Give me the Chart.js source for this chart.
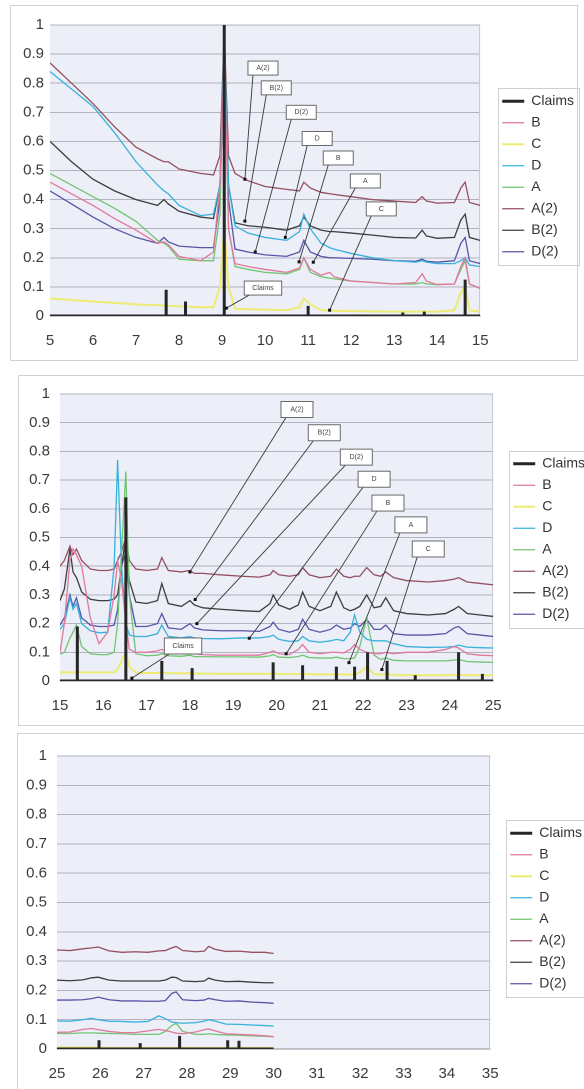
<!DOCTYPE html>
<html><head><meta charset="utf-8">
<script src="https://cdn.jsdelivr.net/npm/chart.js@4.4.0/dist/chart.umd.min.js"></script>
<style>
html,body{margin:0;padding:0;background:#fff;width:584px;height:1089px;overflow:hidden;position:relative}
canvas{position:absolute}
.frame{position:absolute;border:1px solid #d2d2d2;pointer-events:none}
</style></head><body>
<canvas id="c1" width="574" height="355" style="left:10px;top:5px"></canvas>
<canvas id="c2" width="577" height="350" style="left:18px;top:375px"></canvas>
<canvas id="c3" width="575" height="356" style="left:17px;top:733px"></canvas>
<div class="frame" style="left:10px;top:5px;width:566px;height:354px"></div>
<div class="frame" style="left:18px;top:375px;width:600px;height:349px"></div>
<div class="frame" style="left:17px;top:733px;width:600px;height:400px"></div>
<script>
// ---------- series names & colours ----------
const seriesNames = ['Claims','B','C','D','A','A(2)','B(2)','D(2)'];
const seriesColors = ['#262626','#e2789c','#ecec72','#38b2dc','#72c672','#94505f','#3e3e3e','#5656a8'];
const seriesWidths = [3,1.3,2,1.3,1.3,1.3,1.3,1.3];

// ---------- panel 1 (5 - 15) ----------
const p1X  = [5,5.5,6,6.5,7, 7.5,7.65,7.75,8,8.5, 8.8,8.95,9.05,9.15,9.3, 9.6,10,10.5,10.8,10.9, 11.05,11.3,11.5,11.6,12, 12.5,13,13.5,13.65,13.75, 14,14.4,14.55,14.65,14.75, 15];
const p1B  = [0.46,0.42,0.38,0.335,0.295, 0.25,0.255,0.245,0.205,0.19, 0.22,0.45,0.90,0.30,0.18, 0.17,0.16,0.15,0.165,0.20, 0.16,0.14,0.15,0.135,0.12, 0.115,0.11,0.115,0.145,0.12, 0.108,0.11,0.17,0.20,0.11, 0.095];
const p1C  = [0.06,0.055,0.05,0.045,0.04, 0.037,0.036,0.035,0.033,0.03, 0.03,0.10,0.30,0.10,0.025, 0.023,0.022,0.02,0.03,0.06, 0.04,0.02,0.018,0.018,0.017, 0.016,0.015,0.015,0.016,0.015, 0.015,0.02,0.08,0.10,0.02, 0.015];
const p1D  = [0.84,0.78,0.72,0.63,0.53, 0.45,0.43,0.42,0.38,0.345, 0.35,0.45,0.95,0.45,0.31, 0.285,0.27,0.26,0.29,0.35, 0.30,0.25,0.235,0.23,0.215, 0.20,0.19,0.185,0.19,0.185, 0.18,0.18,0.19,0.20,0.175, 0.17];
const p1A  = [0.49,0.45,0.41,0.37,0.325, 0.26,0.25,0.24,0.195,0.19, 0.19,0.35,1.0,0.30,0.17, 0.16,0.15,0.145,0.16,0.20, 0.15,0.135,0.13,0.128,0.12, 0.115,0.11,0.11,0.115,0.11, 0.108,0.11,0.16,0.19,0.11, 0.095];
const p1A2 = [0.87,0.80,0.73,0.65,0.58, 0.54,0.53,0.53,0.505,0.49, 0.485,0.55,0.98,0.55,0.49, 0.465,0.445,0.435,0.43,0.46, 0.44,0.425,0.42,0.418,0.41, 0.40,0.395,0.39,0.41,0.395, 0.388,0.39,0.44,0.46,0.39, 0.38];
const p1B2 = [0.60,0.53,0.47,0.43,0.40, 0.38,0.40,0.385,0.36,0.34, 0.335,0.45,0.97,0.45,0.32, 0.31,0.305,0.295,0.31,0.34, 0.31,0.295,0.29,0.29,0.285, 0.278,0.27,0.268,0.295,0.275, 0.267,0.27,0.33,0.35,0.27, 0.26];
const p1D2 = [0.43,0.385,0.34,0.30,0.27, 0.25,0.27,0.255,0.24,0.235, 0.235,0.40,0.90,0.40,0.23, 0.22,0.21,0.205,0.22,0.26, 0.22,0.205,0.20,0.20,0.198, 0.195,0.19,0.188,0.195,0.188, 0.185,0.19,0.25,0.27,0.19, 0.18];
const p1ClaimX = [7.7,8.15,9.05,11.0,13.2,13.7,14.65];
const p1ClaimY = [0.09,0.05,1.0,0.035,0.012,0.015,0.125];
const p1Ticks = [5,6,7,8,9,10,11,12,13,14,15];

// ---------- panel 2 (15 - 25) ----------
const p2X  = [15,15.1,15.23,15.3,15.38, 15.5,15.7,15.9,16.1,16.25, 16.33,16.42,16.52,16.6,16.75, 17,17.25,17.35,17.5,17.8, 18,18.1,18.3,18.7,19.2, 19.6,19.85,19.92,20.05,20.3, 20.5,20.6,20.75,21,21.25, 21.38,21.55,21.7,21.8,21.92, 22.08,22.25,22.4,22.52,22.7, 23,23.5,23.9,24.1,24.2, 24.4,24.7,25];
const p2B  = [0.10,0.20,0.42,0.46,0.44, 0.40,0.22,0.13,0.17,0.30, 0.42,0.35,0.20,0.11,0.10, 0.10,0.105,0.11,0.10,0.097, 0.10,0.095,0.092,0.09,0.09, 0.09,0.10,0.105,0.095,0.092, 0.11,0.127,0.10,0.095,0.10, 0.10,0.098,0.11,0.127,0.11, 0.10,0.095,0.095,0.10,0.095, 0.10,0.10,0.11,0.12,0.115, 0.095,0.09,0.088];
const p2C  = [0.03,0.03,0.03,0.03,0.03, 0.03,0.03,0.03,0.03,0.03, 0.04,0.07,0.10,0.05,0.03, 0.028,0.028,0.03,0.027,0.027, 0.027,0.026,0.026,0.025,0.025, 0.025,0.025,0.027,0.024,0.024, 0.024,0.026,0.023,0.023,0.023, 0.024,0.022,0.022,0.024,0.03, 0.05,0.025,0.022,0.024,0.021, 0.02,0.02,0.02,0.021,0.022, 0.02,0.02,0.02];
const p2D  = [0.18,0.20,0.29,0.25,0.27, 0.20,0.175,0.168,0.17,0.40, 0.77,0.40,0.20,0.16,0.155, 0.155,0.165,0.195,0.155,0.15, 0.155,0.15,0.148,0.147,0.15, 0.15,0.155,0.16,0.145,0.138, 0.14,0.155,0.14,0.135,0.14, 0.145,0.14,0.17,0.23,0.17, 0.145,0.14,0.14,0.14,0.13, 0.12,0.117,0.118,0.12,0.125, 0.118,0.116,0.115];
const p2A  = [0.093,0.10,0.15,0.17,0.195, 0.12,0.095,0.092,0.092,0.10, 0.20,0.45,0.73,0.30,0.095, 0.088,0.09,0.095,0.088,0.086, 0.09,0.085,0.085,0.084,0.084, 0.083,0.088,0.092,0.083,0.082, 0.085,0.09,0.082,0.08,0.08, 0.083,0.078,0.078,0.08,0.12, 0.22,0.09,0.075,0.08,0.072, 0.07,0.07,0.07,0.073,0.075, 0.068,0.066,0.065];
const p2A2 = [0.40,0.42,0.47,0.44,0.46, 0.42,0.39,0.385,0.385,0.39, 0.42,0.45,0.50,0.42,0.39, 0.385,0.39,0.43,0.385,0.38, 0.385,0.375,0.375,0.37,0.365, 0.362,0.37,0.385,0.37,0.365, 0.37,0.395,0.37,0.36,0.365, 0.39,0.365,0.36,0.365,0.365, 0.395,0.37,0.365,0.38,0.36, 0.35,0.345,0.35,0.355,0.36, 0.345,0.34,0.335];
const p2B2 = [0.28,0.32,0.46,0.38,0.36, 0.31,0.285,0.28,0.28,0.285, 0.30,0.40,0.50,0.35,0.275, 0.27,0.28,0.34,0.27,0.26, 0.28,0.265,0.255,0.25,0.245, 0.242,0.27,0.30,0.265,0.25, 0.265,0.31,0.26,0.245,0.26, 0.31,0.255,0.245,0.25,0.26, 0.30,0.255,0.26,0.29,0.245, 0.235,0.23,0.235,0.25,0.26, 0.235,0.23,0.225];
const p2D2 = [0.195,0.22,0.30,0.26,0.29, 0.22,0.195,0.19,0.19,0.195, 0.25,0.40,0.45,0.30,0.19, 0.19,0.20,0.235,0.185,0.18, 0.20,0.185,0.178,0.175,0.175, 0.173,0.19,0.205,0.18,0.17, 0.18,0.215,0.18,0.17,0.18, 0.195,0.18,0.185,0.20,0.19, 0.215,0.18,0.18,0.195,0.165, 0.16,0.16,0.165,0.185,0.19, 0.165,0.16,0.155];
const p2ClaimX = [15.4,16.52,17.35,18.05,19.92,20.6,21.38,21.8,22.1,22.55,23.2,24.2,24.75];
const p2ClaimY = [0.19,0.64,0.07,0.045,0.065,0.055,0.05,0.05,0.10,0.07,0.02,0.10,0.025];
const p2Ticks = [15,16,17,18,19,20,21,22,23,24,25];

// ---------- panel 3 (25 - 35) ----------
const p3X  = [25,25.3,25.6,25.8,25.95, 26.2,26.5,26.8,27.1,27.35, 27.5,27.65,27.75,27.9,28.2, 28.4,28.5,28.65,28.9,29.2, 29.5,29.8,30];
const p3B  = [0.057,0.058,0.067,0.07,0.066, 0.06,0.056,0.056,0.062,0.067, 0.063,0.058,0.054,0.052,0.058, 0.066,0.068,0.062,0.052,0.05, 0.048,0.045,0.042];
const p3C  = [0.005,0.005,0.005,0.005,0.005, 0.004,0.004,0.004,0.004,0.004, 0.004,0.004,0.004,0.004,0.004, 0.004,0.004,0.004,0.004,0.004, 0.004,0.004,0.004];
const p3D  = [0.096,0.095,0.10,0.105,0.10, 0.095,0.094,0.092,0.094,0.113, 0.104,0.092,0.09,0.088,0.09, 0.095,0.10,0.095,0.085,0.084, 0.082,0.08,0.078];
const p3A  = [0.053,0.053,0.055,0.055,0.054, 0.053,0.052,0.05,0.05,0.05, 0.06,0.08,0.088,0.06,0.05, 0.05,0.052,0.05,0.048,0.047, 0.045,0.043,0.042];
const p3A2 = [0.338,0.336,0.342,0.345,0.348, 0.335,0.33,0.332,0.33,0.335, 0.336,0.345,0.35,0.336,0.332, 0.334,0.35,0.34,0.333,0.334, 0.33,0.33,0.326];
const p3B2 = [0.235,0.233,0.236,0.243,0.245, 0.235,0.232,0.232,0.232,0.232, 0.235,0.245,0.244,0.232,0.23, 0.232,0.242,0.235,0.23,0.231, 0.228,0.226,0.226];
const p3D2 = [0.167,0.167,0.168,0.172,0.177, 0.168,0.164,0.164,0.163,0.163, 0.165,0.19,0.195,0.168,0.165, 0.167,0.173,0.168,0.163,0.164, 0.16,0.158,0.156];
const p3ClaimX = [25.97,26.92,27.83,28.94,29.2];
const p3ClaimY = [0.03,0.02,0.045,0.03,0.028];
const p3Ticks = [25,26,27,28,29,30,31,32,33,34,35];

const yTicks = [0,0.1,0.2,0.3,0.4,0.5,0.6,0.7,0.8,0.9,1];

// ---------- callouts (label, box centre, target point; data units) ----------
const p1Notes = [
  {t:'A(2)', bx:9.95, by:0.852, tx:9.53, ty:0.47},
  {t:'B(2)', bx:10.26, by:0.784, tx:9.53, ty:0.326},
  {t:'D(2)', bx:10.84, by:0.70, tx:9.77, ty:0.22},
  {t:'D', bx:11.21, by:0.61, tx:10.47, ty:0.27},
  {t:'B', bx:11.7, by:0.543, tx:10.79, ty:0.186},
  {t:'A', bx:12.33, by:0.464, tx:11.12, ty:0.185},
  {t:'C', bx:12.7, by:0.368, tx:11.5, ty:0.02},
  {t:'Claims', bx:9.95, by:0.096, tx:9.1, ty:0.027}
];
const p2Notes = [
  {t:'A(2)', bx:20.47, by:0.946, tx:18.0, ty:0.38},
  {t:'B(2)', bx:21.1, by:0.865, tx:18.12, ty:0.284},
  {t:'D(2)', bx:21.84, by:0.78, tx:18.16, ty:0.2},
  {t:'D', bx:22.25, by:0.703, tx:19.37, ty:0.149},
  {t:'B', bx:22.57, by:0.62, tx:20.22, ty:0.095},
  {t:'A', bx:23.1, by:0.544, tx:21.67, ty:0.064},
  {t:'C', bx:23.5, by:0.46, tx:22.43, ty:0.04},
  {t:'Claims', bx:17.84, by:0.122, tx:16.66, ty:0.01}
];

// ---------- helpers ----------
function pts(xs, ys){ return xs.map((x,i)=>({x:x, y:ys[i]})); }
function spikes(xs, ys, x0, x1){
  const out = [{x:x0, y:0}];
  xs.forEach((x,i)=>{ out.push({x:x,y:0},{x:x,y:ys[i]},{x:x,y:0}); });
  out.push({x:x1, y:0});
  return out;
}
const FONT = "'Liberation Sans', Arial, sans-serif";

const bgPlugin = {
  id:'bg',
  beforeDraw(chart){
    const {ctx, chartArea:a} = chart;
    ctx.save(); ctx.fillStyle = '#eceef8';
    ctx.fillRect(a.left, a.top, a.right-a.left, a.bottom-a.top);
    ctx.restore();
  },
  beforeDatasetsDraw(chart){
    const {ctx, chartArea:a} = chart;
    ctx.save(); ctx.strokeStyle = '#c9c9d4'; ctx.lineWidth = 1;
    ctx.beginPath(); ctx.moveTo(Math.round(a.right)-0.5, a.top); ctx.lineTo(Math.round(a.right)-0.5, a.bottom); ctx.stroke();
    ctx.restore();
  }
};
const notesPlugin = {
  id:'notes',
  afterDatasetsDraw(chart, args, opts){
    const notes = opts.items || [];
    const {ctx} = chart; const xs = chart.scales.x, ys = chart.scales.y;
    ctx.save();
    ctx.font = '7px ' + FONT;
    notes.forEach(n=>{
      const bx = xs.getPixelForValue(n.bx), by = ys.getPixelForValue(n.by);
      const tx = xs.getPixelForValue(n.tx), ty = ys.getPixelForValue(n.ty);
      const w = Math.max(opts.w, ctx.measureText(n.t).width + 16), h = opts.h;
      const l = bx - w/2, t = by - h/2;
      ctx.strokeStyle = '#3a3a3a'; ctx.lineWidth = 0.9;
      ctx.beginPath(); ctx.moveTo(l + 5, t + h); ctx.lineTo(tx, ty); ctx.stroke();
      ctx.fillStyle = '#111'; ctx.fillRect(tx-1.5, ty-1.5, 3, 3);
      ctx.fillStyle = '#fff'; ctx.fillRect(l, t, w, h);
      ctx.strokeStyle = '#6a6a6a'; ctx.lineWidth = 1; ctx.strokeRect(l, t, w, h);
      ctx.fillStyle = '#444'; ctx.textAlign = 'center'; ctx.textBaseline = 'middle';
      ctx.fillText(n.t, bx, by);
    });
    ctx.restore();
  }
};
const legendShiftPlugin = {
  id:'legendShift',
  afterLayout(chart, args, opts){
    const lg = chart.legend; if (!lg) return;
    lg.top += opts.dy || 0; lg.bottom += opts.dy || 0;
  }
};
const legendBoxPlugin = {
  id:'legendBox',
  afterDraw(chart){
    const lg = chart.legend; if (!lg || !lg.legendHitBoxes || !lg.legendHitBoxes.length) return;
    const hb = lg.legendHitBoxes;
    let l = Infinity, r = -Infinity, t = Infinity, b = -Infinity;
    hb.forEach(h=>{ l=Math.min(l,h.left); r=Math.max(r,h.left+h.width); t=Math.min(t,h.top); b=Math.max(b,h.top+h.height); });
    const ctx = chart.ctx; ctx.save(); ctx.strokeStyle = '#cfcfcf'; ctx.lineWidth = 1;
    ctx.strokeRect(Math.round(l-4)+0.5, Math.round(t-6)+0.5, Math.round(r-l+9), Math.round(b-t+12));
    ctx.restore();
  }
};

function makeChart(id, p){
  const ys = [null, p.B, p.C, p.D, p.A, p.A2, p.B2, p.D2];
  const datasets = seriesNames.map((name,i)=>({
    label: name,
    data: i===0 ? spikes(p.claimX, p.claimY, p.x0, p.x1) : pts(p.X, ys[i]),
    borderColor: seriesColors[i], backgroundColor: seriesColors[i],
    borderWidth: seriesWidths[i], pointRadius: 0, tension: 0, fill: false
  }));
  return new Chart(document.getElementById(id), {
    type:'line',
    data:{datasets},
    plugins:[bgPlugin, notesPlugin, legendShiftPlugin, legendBoxPlugin],
    options:{
      responsive:false, animation:false, devicePixelRatio:2,
      layout:{padding:{top:p.padTop, left:0, right:p.padRight, bottom:0}},
      scales:{
        x:{type:'linear', min:p.ticks[0], max:p.ticks[p.ticks.length-1],
           afterBuildTicks(s){ s.ticks = p.ticks.map(v=>({value:v})); },
           ticks:{font:{family:FONT, size:p.fs}, color:'#3a3a3a', padding:p.xPad, maxRotation:0, autoSkip:false},
           grid:{display:false, drawTicks:false}, border:{display:true, color:'#8c8c94', width:1},
           afterFit(s){ s.height = p.xH; }},
        y:{min:0, max:1,
           afterBuildTicks(s){ s.ticks = yTicks.map(v=>({value:v})); },
           ticks:{font:{family:FONT, size:p.fs}, color:'#3a3a3a', padding:p.yPad, callback:v=>String(Number(v.toFixed(1)))},
           grid:{color:'#b2b2c0', drawTicks:false, lineWidth:1}, border:{display:false},
           afterFit(s){ s.width = p.yW; }},
        gap:{position:'right', display:true, min:0, max:1,
           ticks:{display:false}, grid:{display:false, drawTicks:false}, border:{display:false},
           afterFit(s){ s.width = p.gap; }}
      },
      plugins:{
        tooltip:{enabled:false},
        notes:{items:p.notes || [], w:p.nw, h:p.nh},
        legendShift:{dy:p.legDy},
        legend:{position:'right', align:'center',
          labels:{usePointStyle:true, pointStyle:'line', pointStyleWidth:22, padding:7.5,
                  font:{family:FONT, size:14}, color:'#333'}}
      }
    }
  });
}

makeChart('c1', {X:p1X, B:p1B, C:p1C, D:p1D, A:p1A, A2:p1A2, B2:p1B2, D2:p1D2,
  claimX:p1ClaimX, claimY:p1ClaimY, x0:5, x1:15, ticks:p1Ticks, notes:p1Notes, nw:30, nh:14,
  padTop:20, padRight:0, yW:40, xH:44, gap:14.5, fs:15, xPad:16, yPad:6, legDy:-16});
makeChart('c2', {X:p2X, B:p2B, C:p2C, D:p2D, A:p2A, A2:p2A2, B2:p2B2, D2:p2D2,
  claimX:p2ClaimX, claimY:p2ClaimY, x0:15, x1:25, ticks:p2Ticks, notes:p2Notes, nw:32, nh:16,
  padTop:10, padRight:0, yW:42, xH:44, gap:12.5, fs:15, xPad:16, yPad:10, legDy:-16});
makeChart('c3', {X:p3X, B:p3B, C:p3C, D:p3D, A:p3A, A2:p3A2, B2:p3B2, D2:p3D2,
  claimX:p3ClaimX, claimY:p3ClaimY, x0:25, x1:30, ticks:p3Ticks, notes:[], nw:30, nh:14,
  padTop:23, padRight:0, yW:40, xH:40, gap:12.5, fs:15, xPad:16, yPad:10, legDy:-14});
</script>
</body></html>
